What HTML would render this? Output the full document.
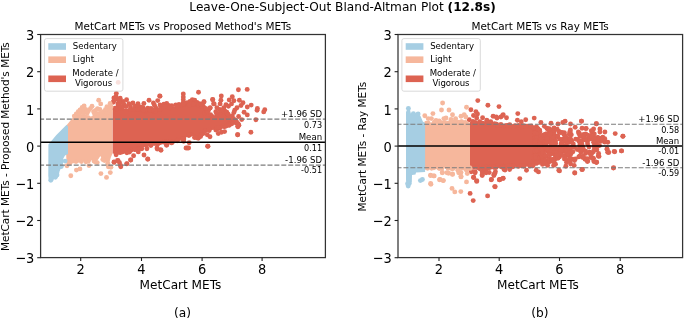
<!DOCTYPE html>
<html><head><meta charset="utf-8"><title>Bland-Altman Plot</title>
<style>html,body{margin:0;padding:0;background:#fff}svg{display:block}</style></head>
<body>
<svg width="685" height="320" viewBox="0 0 685 320" font-family="DejaVu Sans, Liberation Sans, sans-serif" fill="#000">
<rect width="685" height="320" fill="#fff"/>
<text x="342.6" y="10.6" font-size="12.13" text-anchor="middle" xml:space="preserve">Leave-One-Subject-Out Bland-Altman Plot <tspan font-weight="bold">(12.8s)</tspan></text>
<g id="left-data">
<polygon fill="#dd6352" points="112.5,108.5 125.0,108.5 140.0,109.0 146.0,110.5 157.0,110.5 161.0,108.5 163.0,106.5 170.0,107.0 175.0,106.8 180.0,105.0 184.0,104.3 196.0,104.3 203.0,104.8 206.0,108.0 208.0,111.5 210.0,114.5 214.0,115.5 217.0,113.0 219.5,110.5 222.0,110.0 225.0,111.0 227.0,113.5 229.0,116.5 232.0,118.8 236.0,120.8 239.0,122.2 239.0,124.0 238.0,127.0 235.0,125.0 231.0,123.5 227.0,125.5 220.0,127.0 216.0,129.4 209.6,130.2 204.5,131.0 202.6,134.0 198.6,137.8 194.0,137.2 190.0,134.0 186.0,137.8 183.0,139.0 179.7,139.6 173.4,141.8 162.5,142.6 151.6,144.0 145.3,146.4 140.6,148.7 132.8,149.6 128.1,152.6 120.3,155.0 112.5,153.6"/>
<g fill="#dd6352"><circle cx="118.2" cy="82.4" r="2.45"/><circle cx="116.3" cy="93.5" r="2.45"/><circle cx="113.9" cy="97.9" r="2.45"/><circle cx="116.7" cy="99.0" r="2.45"/><circle cx="120.2" cy="98.2" r="2.45"/><circle cx="126.6" cy="99.8" r="2.45"/><circle cx="123.0" cy="101.4" r="2.45"/><circle cx="132.9" cy="103.0" r="2.45"/><circle cx="138.0" cy="103.8" r="2.45"/><circle cx="143.9" cy="103.4" r="2.45"/><circle cx="149.0" cy="100.2" r="2.45"/><circle cx="159.7" cy="95.9" r="2.45"/><circle cx="157.7" cy="100.6" r="2.45"/><circle cx="153.4" cy="103.0" r="2.45"/><circle cx="154.5" cy="105.3" r="2.45"/><circle cx="147.8" cy="108.1" r="2.45"/><circle cx="160.0" cy="105.0" r="2.45"/><circle cx="162.8" cy="106.1" r="2.45"/><circle cx="128.9" cy="103.8" r="2.45"/><circle cx="135.2" cy="106.1" r="2.45"/><circle cx="140.7" cy="106.9" r="2.45"/><circle cx="117.9" cy="103.8" r="2.45"/><circle cx="113.2" cy="102.2" r="2.45"/><circle cx="120.0" cy="103.0" r="2.45"/><circle cx="124.0" cy="105.0" r="2.45"/><circle cx="118.0" cy="106.5" r="2.45"/><circle cx="121.5" cy="107.0" r="2.45"/><circle cx="126.0" cy="106.5" r="2.45"/><circle cx="130.5" cy="106.8" r="2.45"/><circle cx="137.5" cy="107.3" r="2.45"/><circle cx="143.0" cy="107.5" r="2.45"/><circle cx="151.0" cy="108.5" r="2.45"/><circle cx="156.0" cy="108.3" r="2.45"/><circle cx="114.0" cy="100.5" r="2.45"/><circle cx="116.0" cy="96.5" r="2.45"/><circle cx="119.0" cy="100.8" r="2.45"/><circle cx="123.5" cy="103.5" r="2.45"/><circle cx="160.0" cy="96.3" r="2.45"/><circle cx="166.7" cy="103.4" r="2.45"/><circle cx="163.9" cy="104.2" r="2.45"/><circle cx="175.8" cy="104.9" r="2.45"/><circle cx="171.8" cy="105.7" r="2.45"/><circle cx="183.3" cy="93.9" r="2.45"/><circle cx="183.3" cy="97.1" r="2.45"/><circle cx="183.3" cy="99.8" r="2.45"/><circle cx="183.3" cy="102.6" r="2.45"/><circle cx="192.3" cy="99.8" r="2.45"/><circle cx="194.7" cy="100.2" r="2.45"/><circle cx="190.0" cy="101.4" r="2.45"/><circle cx="187.2" cy="102.6" r="2.45"/><circle cx="198.5" cy="92.3" r="2.45"/><circle cx="204.0" cy="101.8" r="2.45"/><circle cx="212.8" cy="99.8" r="2.45"/><circle cx="213.6" cy="103.8" r="2.45"/><circle cx="210.1" cy="108.1" r="2.45"/><circle cx="199.4" cy="103.8" r="2.45"/><circle cx="201.8" cy="106.1" r="2.45"/><circle cx="195.5" cy="103.0" r="2.45"/><circle cx="168.5" cy="105.5" r="2.45"/><circle cx="179.0" cy="104.5" r="2.45"/><circle cx="185.0" cy="103.5" r="2.45"/><circle cx="197.0" cy="102.5" r="2.45"/><circle cx="203.9" cy="101.9" r="2.45"/><circle cx="212.6" cy="99.5" r="2.45"/><circle cx="214.2" cy="103.9" r="2.45"/><circle cx="210.2" cy="107.8" r="2.45"/><circle cx="221.3" cy="96.0" r="2.45"/><circle cx="220.9" cy="100.3" r="2.45"/><circle cx="220.1" cy="103.9" r="2.45"/><circle cx="216.9" cy="107.8" r="2.45"/><circle cx="215.8" cy="111.8" r="2.45"/><circle cx="219.7" cy="109.4" r="2.45"/><circle cx="222.1" cy="111.8" r="2.45"/><circle cx="223.7" cy="107.8" r="2.45"/><circle cx="226.0" cy="104.7" r="2.45"/><circle cx="229.2" cy="99.9" r="2.45"/><circle cx="232.3" cy="96.8" r="2.45"/><circle cx="233.9" cy="100.7" r="2.45"/><circle cx="231.5" cy="103.9" r="2.45"/><circle cx="228.4" cy="106.2" r="2.45"/><circle cx="239.4" cy="100.3" r="2.45"/><circle cx="243.0" cy="102.7" r="2.45"/><circle cx="241.0" cy="105.5" r="2.45"/><circle cx="237.0" cy="107.8" r="2.45"/><circle cx="234.7" cy="110.2" r="2.45"/><circle cx="233.9" cy="112.6" r="2.45"/><circle cx="251.2" cy="105.1" r="2.45"/><circle cx="247.3" cy="107.0" r="2.45"/><circle cx="244.1" cy="112.2" r="2.45"/><circle cx="247.3" cy="114.9" r="2.45"/><circle cx="238.6" cy="116.5" r="2.45"/><circle cx="232.3" cy="115.7" r="2.45"/><circle cx="227.6" cy="117.3" r="2.45"/><circle cx="211.8" cy="116.1" r="2.45"/><circle cx="204.7" cy="113.3" r="2.45"/><circle cx="201.6" cy="106.2" r="2.45"/><circle cx="238.4" cy="89.8" r="2.45"/><circle cx="247.2" cy="89.4" r="2.45"/><circle cx="257.4" cy="108.4" r="2.45"/><circle cx="257.1" cy="110.3" r="2.45"/><circle cx="264.8" cy="109.7" r="2.45"/><circle cx="263.7" cy="111.9" r="2.45"/><circle cx="255.9" cy="119.8" r="2.45"/><circle cx="237.8" cy="126.2" r="2.45"/><circle cx="250.9" cy="132.3" r="2.45"/><circle cx="237.7" cy="134.7" r="2.45"/><circle cx="241.7" cy="119.6" r="2.45"/><circle cx="207.3" cy="134.7" r="2.45"/><circle cx="210.0" cy="136.7" r="2.45"/><circle cx="218.3" cy="133.5" r="2.45"/><circle cx="221.5" cy="132.3" r="2.45"/><circle cx="224.6" cy="131.6" r="2.45"/><circle cx="237.6" cy="134.7" r="2.45"/><circle cx="208.0" cy="146.2" r="2.45"/><circle cx="197.0" cy="137.8" r="2.45"/><circle cx="207.6" cy="146.2" r="2.45"/><circle cx="187.3" cy="148.0" r="2.45"/><circle cx="186.0" cy="148.0" r="2.45"/><circle cx="188.6" cy="148.0" r="2.45"/><circle cx="189.2" cy="142.8" r="2.45"/><circle cx="183.7" cy="141.2" r="2.45"/><circle cx="147.8" cy="159.2" r="2.45"/><circle cx="157.2" cy="149.0" r="2.45"/><circle cx="161.0" cy="150.2" r="2.45"/><circle cx="166.5" cy="145.2" r="2.45"/><circle cx="171.2" cy="142.8" r="2.45"/><circle cx="114.0" cy="162.0" r="2.45"/><circle cx="117.5" cy="160.5" r="2.45"/><circle cx="119.5" cy="162.8" r="2.45"/><circle cx="120.8" cy="166.7" r="2.45"/><circle cx="126.9" cy="163.6" r="2.45"/><circle cx="130.8" cy="160.0" r="2.45"/><circle cx="133.6" cy="155.8" r="2.45"/><circle cx="138.3" cy="151.9" r="2.45"/><circle cx="144.0" cy="155.0" r="2.45"/><circle cx="147.7" cy="158.9" r="2.45"/><circle cx="146.9" cy="148.7" r="2.45"/><circle cx="150.8" cy="145.6" r="2.45"/><circle cx="157.0" cy="148.0" r="2.45"/><circle cx="160.6" cy="149.8" r="2.45"/><circle cx="166.9" cy="144.8" r="2.45"/><circle cx="171.9" cy="142.8" r="2.45"/><circle cx="118.1" cy="160.8" r="2.45"/><circle cx="120.5" cy="165.5" r="2.45"/><circle cx="126.7" cy="163.9" r="2.45"/><circle cx="130.6" cy="160.0" r="2.45"/><circle cx="114.2" cy="162.3" r="2.45"/></g>
<g fill="#dd6352"><circle cx="145.7" cy="110.2" r="2.45"/><circle cx="195.4" cy="103.5" r="2.45"/><circle cx="115.0" cy="108.1" r="2.45"/><circle cx="146.0" cy="110.2" r="2.45"/><circle cx="220.6" cy="110.5" r="2.45"/><circle cx="133.8" cy="109.4" r="2.45"/><circle cx="184.3" cy="104.6" r="2.45"/><circle cx="121.9" cy="108.7" r="2.45"/><circle cx="153.7" cy="111.2" r="2.45"/><circle cx="177.5" cy="106.7" r="2.45"/><circle cx="208.4" cy="110.6" r="2.45"/><circle cx="216.7" cy="114.0" r="2.45"/><circle cx="225.2" cy="111.4" r="2.45"/><circle cx="143.6" cy="109.6" r="2.45"/><circle cx="198.0" cy="104.5" r="2.45"/><circle cx="164.8" cy="106.8" r="2.45"/><circle cx="193.2" cy="104.6" r="2.45"/><circle cx="230.9" cy="118.4" r="2.45"/><circle cx="203.5" cy="106.6" r="2.45"/><circle cx="235.3" cy="120.2" r="2.45"/><circle cx="207.1" cy="111.4" r="2.45"/><circle cx="190.6" cy="103.5" r="2.45"/><circle cx="223.9" cy="109.6" r="2.45"/><circle cx="216.6" cy="112.6" r="2.45"/><circle cx="154.0" cy="111.2" r="2.45"/><circle cx="118.9" cy="107.7" r="2.45"/><circle cx="207.6" cy="112.0" r="2.45"/><circle cx="236.6" cy="122.0" r="2.45"/><circle cx="154.9" cy="110.7" r="2.45"/><circle cx="116.4" cy="108.3" r="2.45"/><circle cx="195.5" cy="103.5" r="2.45"/><circle cx="224.5" cy="111.8" r="2.45"/><circle cx="227.2" cy="114.0" r="2.45"/><circle cx="183.7" cy="104.6" r="2.45"/><circle cx="189.2" cy="105.1" r="2.45"/><circle cx="181.5" cy="105.1" r="2.45"/><circle cx="145.2" cy="111.3" r="2.45"/><circle cx="183.7" cy="103.5" r="2.45"/><circle cx="169.3" cy="106.1" r="2.45"/><circle cx="197.1" cy="103.6" r="2.45"/><circle cx="198.4" cy="104.8" r="2.45"/><circle cx="161.5" cy="108.8" r="2.45"/><circle cx="114.8" cy="108.8" r="2.45"/><circle cx="233.9" cy="119.9" r="2.45"/><circle cx="193.3" cy="104.1" r="2.45"/><circle cx="155.9" cy="110.7" r="2.45"/><circle cx="154.2" cy="111.0" r="2.45"/><circle cx="116.4" cy="108.9" r="2.45"/><circle cx="155.2" cy="111.0" r="2.45"/><circle cx="145.2" cy="110.3" r="2.45"/><circle cx="205.8" cy="108.5" r="2.45"/><circle cx="159.4" cy="109.5" r="2.45"/><circle cx="222.6" cy="110.1" r="2.45"/><circle cx="202.4" cy="104.6" r="2.45"/><circle cx="143.2" cy="110.0" r="2.45"/><circle cx="139.8" cy="109.6" r="2.45"/><circle cx="137.8" cy="109.5" r="2.45"/><circle cx="201.1" cy="104.3" r="2.45"/><circle cx="130.3" cy="109.2" r="2.45"/><circle cx="150.0" cy="110.4" r="2.45"/><circle cx="169.6" cy="107.7" r="2.45"/><circle cx="133.5" cy="109.6" r="2.45"/><circle cx="226.8" cy="112.1" r="2.45"/><circle cx="233.5" cy="118.7" r="2.45"/><circle cx="210.6" cy="114.8" r="2.45"/><circle cx="182.9" cy="104.1" r="2.45"/><circle cx="143.4" cy="110.2" r="2.45"/><circle cx="153.1" cy="109.7" r="2.45"/><circle cx="228.3" cy="115.6" r="2.45"/><circle cx="228.1" cy="114.2" r="2.45"/></g>
<g fill="#dd6352"><circle cx="238.9" cy="125.2" r="2.45"/><circle cx="203.2" cy="133.6" r="2.45"/><circle cx="190.7" cy="134.3" r="2.45"/><circle cx="198.3" cy="138.3" r="2.45"/><circle cx="183.3" cy="138.8" r="2.45"/><circle cx="215.8" cy="130.0" r="2.45"/><circle cx="219.4" cy="128.4" r="2.45"/><circle cx="138.8" cy="148.1" r="2.45"/><circle cx="162.7" cy="141.9" r="2.45"/><circle cx="205.0" cy="130.9" r="2.45"/><circle cx="188.9" cy="135.5" r="2.45"/><circle cx="238.1" cy="123.6" r="2.45"/><circle cx="224.3" cy="126.8" r="2.45"/><circle cx="131.0" cy="150.3" r="2.45"/><circle cx="201.0" cy="134.9" r="2.45"/><circle cx="159.6" cy="142.7" r="2.45"/><circle cx="216.2" cy="128.4" r="2.45"/><circle cx="172.6" cy="141.7" r="2.45"/><circle cx="230.3" cy="123.3" r="2.45"/><circle cx="165.9" cy="142.2" r="2.45"/><circle cx="139.1" cy="148.8" r="2.45"/><circle cx="194.5" cy="137.6" r="2.45"/><circle cx="189.6" cy="134.7" r="2.45"/><circle cx="209.2" cy="130.6" r="2.45"/><circle cx="231.8" cy="123.7" r="2.45"/><circle cx="129.5" cy="152.0" r="2.45"/><circle cx="126.9" cy="152.7" r="2.45"/><circle cx="183.8" cy="139.0" r="2.45"/><circle cx="158.0" cy="143.8" r="2.45"/><circle cx="157.0" cy="143.5" r="2.45"/><circle cx="228.1" cy="124.1" r="2.45"/><circle cx="223.0" cy="125.6" r="2.45"/><circle cx="228.7" cy="125.0" r="2.45"/><circle cx="217.1" cy="128.9" r="2.45"/><circle cx="226.2" cy="126.1" r="2.45"/><circle cx="134.9" cy="149.6" r="2.45"/><circle cx="138.4" cy="149.3" r="2.45"/><circle cx="178.5" cy="139.4" r="2.45"/><circle cx="146.4" cy="145.5" r="2.45"/><circle cx="200.6" cy="136.6" r="2.45"/><circle cx="208.9" cy="129.8" r="2.45"/><circle cx="164.2" cy="142.3" r="2.45"/><circle cx="195.0" cy="137.1" r="2.45"/><circle cx="188.7" cy="134.5" r="2.45"/><circle cx="116.1" cy="154.7" r="2.45"/><circle cx="220.5" cy="127.4" r="2.45"/><circle cx="155.8" cy="143.4" r="2.45"/><circle cx="160.7" cy="142.3" r="2.45"/><circle cx="229.3" cy="125.3" r="2.45"/><circle cx="177.2" cy="140.8" r="2.45"/><circle cx="216.7" cy="128.2" r="2.45"/><circle cx="167.7" cy="141.7" r="2.45"/><circle cx="154.1" cy="143.4" r="2.45"/><circle cx="151.2" cy="144.7" r="2.45"/><circle cx="167.7" cy="141.7" r="2.45"/><circle cx="237.9" cy="126.7" r="2.45"/><circle cx="218.5" cy="127.4" r="2.45"/><circle cx="141.8" cy="148.7" r="2.45"/><circle cx="182.6" cy="139.0" r="2.45"/><circle cx="134.9" cy="149.5" r="2.45"/></g>
<polygon fill="#f6b79c" points="66.0,126.0 73.5,116.8 75.5,115.5 80.0,114.6 89.0,115.2 90.5,116.5 92.5,116.0 93.5,113.0 96.0,111.5 101.0,111.0 104.0,110.5 108.0,111.5 112.3,110.0 112.3,154.0 110.8,157.5 109.5,162.0 107.5,163.3 105.5,162.0 103.5,160.5 101.7,158.5 100.3,156.0 98.8,158.5 96.5,161.8 93.5,162.0 91.5,160.0 90.0,163.0 87.5,163.2 84.8,160.5 82.0,162.0 78.0,162.8 73.0,163.2 70.0,163.6 67.5,164.5 66.5,163.0 66.0,150.0"/>
<g fill="#f6b79c"><circle cx="98.7" cy="100.3" r="2.45"/><circle cx="100.7" cy="103.9" r="2.45"/><circle cx="84.1" cy="105.9" r="2.45"/><circle cx="82.2" cy="107.4" r="2.45"/><circle cx="92.0" cy="106.2" r="2.45"/><circle cx="90.4" cy="108.6" r="2.45"/><circle cx="78.2" cy="111.8" r="2.45"/><circle cx="74.3" cy="116.1" r="2.45"/><circle cx="110.1" cy="103.5" r="2.45"/><circle cx="107.0" cy="106.6" r="2.45"/><circle cx="109.0" cy="109.4" r="2.45"/><circle cx="97.5" cy="108.6" r="2.45"/><circle cx="99.9" cy="109.4" r="2.45"/><circle cx="85.7" cy="109.4" r="2.45"/><circle cx="81.8" cy="112.6" r="2.45"/><circle cx="87.3" cy="113.0" r="2.45"/><circle cx="93.6" cy="111.8" r="2.45"/><circle cx="103.8" cy="111.8" r="2.45"/><circle cx="107.0" cy="112.6" r="2.45"/><circle cx="76.3" cy="113.9" r="2.45"/><circle cx="80.0" cy="110.0" r="2.45"/><circle cx="83.5" cy="110.5" r="2.45"/><circle cx="88.5" cy="110.8" r="2.45"/><circle cx="84.0" cy="113.0" r="2.45"/><circle cx="79.5" cy="113.5" r="2.45"/><circle cx="95.5" cy="110.5" r="2.45"/><circle cx="105.5" cy="109.5" r="2.45"/><circle cx="111.0" cy="107.0" r="2.45"/><circle cx="110.5" cy="111.0" r="2.45"/><circle cx="86.5" cy="111.5" r="2.45"/><circle cx="94.5" cy="113.8" r="2.45"/><circle cx="67.0" cy="165.7" r="2.45"/><circle cx="70.1" cy="162.8" r="2.45"/><circle cx="81.4" cy="161.6" r="2.45"/><circle cx="89.0" cy="165.6" r="2.45"/><circle cx="95.2" cy="161.8" r="2.45"/><circle cx="94.0" cy="161.0" r="2.45"/><circle cx="97.2" cy="162.6" r="2.45"/><circle cx="102.8" cy="159.6" r="2.45"/><circle cx="107.8" cy="163.4" r="2.45"/><circle cx="108.4" cy="166.8" r="2.45"/><circle cx="110.9" cy="167.2" r="2.45"/><circle cx="104.5" cy="160.6" r="2.45"/><circle cx="86.0" cy="161.8" r="2.45"/><circle cx="76.0" cy="161.5" r="2.45"/><circle cx="70.8" cy="175.8" r="2.45"/><circle cx="76.4" cy="170.1" r="2.45"/><circle cx="79.9" cy="168.9" r="2.45"/><circle cx="100.9" cy="173.6" r="2.45"/><circle cx="106.5" cy="177.4" r="2.45"/><circle cx="110.3" cy="172.6" r="2.45"/></g>
<polygon fill="#a6cee3" points="48.4,144.4 56.4,135.0 66.6,124.8 68.0,126.5 68.0,154.0 65.0,155.5 63.3,158.5 63.0,163.5 62.6,167.0 60.5,169.0 59.5,171.5 58.8,175.0 57.0,177.0 54.5,178.5 53.0,180.5 50.7,181.8 48.8,180.5 48.3,176.0"/>
<g fill="#a6cee3"><circle cx="65.1" cy="161.1" r="2.45"/><circle cx="57.0" cy="175.1" r="2.45"/><circle cx="61.3" cy="166.5" r="2.45"/><circle cx="50.8" cy="180.2" r="2.45"/><circle cx="55.3" cy="177.3" r="2.45"/></g>
</g>
<line x1="40.6" x2="325.4" y1="119.15" y2="119.15" stroke="#7c7c7c" stroke-width="1.2" stroke-dasharray="5 1.92" stroke-dashoffset="1.5"/>
<line x1="40.6" x2="325.4" y1="142.15" y2="142.15" stroke="#000" stroke-width="1.5"/>
<line x1="40.6" x2="325.4" y1="165.15" y2="165.15" stroke="#7c7c7c" stroke-width="1.2" stroke-dasharray="5 1.92" stroke-dashoffset="1.5"/>
<rect x="40.6" y="34.5" width="284.8" height="223.1" fill="none" stroke="#333" stroke-width="1.25"/>
<line x1="80.7" x2="80.7" y1="257.6" y2="261.0" stroke="#222" stroke-width="1.1"/>
<text transform="translate(80.70,273.80) scale(1,1.130)" font-size="13.00" text-anchor="middle">2</text>
<line x1="141.5" x2="141.5" y1="257.6" y2="261.0" stroke="#222" stroke-width="1.1"/>
<text transform="translate(141.50,273.80) scale(1,1.130)" font-size="13.00" text-anchor="middle">4</text>
<line x1="202.1" x2="202.1" y1="257.6" y2="261.0" stroke="#222" stroke-width="1.1"/>
<text transform="translate(202.10,273.80) scale(1,1.130)" font-size="13.00" text-anchor="middle">6</text>
<line x1="262.1" x2="262.1" y1="257.6" y2="261.0" stroke="#222" stroke-width="1.1"/>
<text transform="translate(262.10,273.80) scale(1,1.130)" font-size="13.00" text-anchor="middle">8</text>
<line x1="37.2" x2="40.6" y1="34.5" y2="34.5" stroke="#222" stroke-width="1.1"/>
<text transform="translate(34.30,40.13) scale(1,1.120)" font-size="13.00" text-anchor="end">3</text>
<line x1="37.2" x2="40.6" y1="71.7" y2="71.7" stroke="#222" stroke-width="1.1"/>
<text transform="translate(34.30,77.32) scale(1,1.120)" font-size="13.00" text-anchor="end">2</text>
<line x1="37.2" x2="40.6" y1="108.9" y2="108.9" stroke="#222" stroke-width="1.1"/>
<text transform="translate(34.30,114.51) scale(1,1.120)" font-size="13.00" text-anchor="end">1</text>
<line x1="37.2" x2="40.6" y1="146.1" y2="146.1" stroke="#222" stroke-width="1.1"/>
<text transform="translate(34.30,151.70) scale(1,1.120)" font-size="13.00" text-anchor="end">0</text>
<line x1="37.2" x2="40.6" y1="183.3" y2="183.3" stroke="#222" stroke-width="1.1"/>
<text transform="translate(34.30,188.89) scale(1,1.120)" font-size="13.00" text-anchor="end">−1</text>
<line x1="37.2" x2="40.6" y1="220.5" y2="220.5" stroke="#222" stroke-width="1.1"/>
<text transform="translate(34.30,226.08) scale(1,1.120)" font-size="13.00" text-anchor="end">−2</text>
<line x1="37.2" x2="40.6" y1="257.7" y2="257.7" stroke="#222" stroke-width="1.1"/>
<text transform="translate(34.30,263.27) scale(1,1.120)" font-size="13.00" text-anchor="end">−3</text>
<text x="182.80" y="30.30" font-size="10.45" text-anchor="middle" >MetCart METs vs Proposed Method's METs</text>
<text transform="translate(8.90,146.60) rotate(-90)" font-size="10.45" text-anchor="middle">MetCart METs - Proposed Method's METs</text>
<text x="180.50" y="289.25" font-size="12.10" text-anchor="middle" >MetCart METs</text>
<text x="182.50" y="317.30" font-size="12.20" text-anchor="middle" >(a)</text>
<text x="322.10" y="117.10" font-size="8.58" text-anchor="end" >+1.96 SD</text>
<text x="322.10" y="127.50" font-size="8.15" text-anchor="end" >0.73</text>
<text x="322.10" y="139.60" font-size="8.58" text-anchor="end" >Mean</text>
<text x="322.10" y="150.50" font-size="8.15" text-anchor="end" >0.11</text>
<text x="322.10" y="163.10" font-size="8.58" text-anchor="end" >-1.96 SD</text>
<text x="322.10" y="173.30" font-size="8.15" text-anchor="end" >-0.51</text>
<rect x="44.5" y="38.6" width="78.4" height="52.6" rx="2" ry="2" fill="#fff" fill-opacity="0.8" stroke="#ccc" stroke-opacity="0.8" stroke-width="0.9"/>
<rect x="48.3" y="43.2" width="17.7" height="6.6" fill="#a6cee3"/>
<rect x="48.3" y="56.4" width="17.7" height="6.6" fill="#f6b79c"/>
<rect x="48.3" y="75.5" width="17.7" height="6.6" fill="#dd6352"/>
<text x="72.80" y="49.40" font-size="8.55" text-anchor="start" >Sedentary</text>
<text x="72.80" y="62.40" font-size="8.55" text-anchor="start" >Light</text>
<text x="72.30" y="76.10" font-size="8.55" text-anchor="start" >Moderate /</text>
<text x="72.30" y="85.75" font-size="8.55" text-anchor="start" > Vigorous</text>
<g id="right-data">
<polygon fill="#dd6352" points="470.0,122.0 476.0,121.8 482.0,122.5 490.0,123.8 496.0,125.0 506.0,125.6 514.0,126.0 530.0,126.8 538.0,127.6 538.0,165.5 530.0,166.2 520.0,166.4 500.0,166.8 484.0,167.8 470.0,168.0"/>
<g fill="#dd6352"><circle cx="477.8" cy="100.6" r="2.45"/><circle cx="470.9" cy="109.7" r="2.45"/><circle cx="475.9" cy="111.6" r="2.45"/><circle cx="477.5" cy="114.0" r="2.45"/><circle cx="473.5" cy="115.5" r="2.45"/><circle cx="476.7" cy="118.0" r="2.45"/><circle cx="469.2" cy="119.7" r="2.45"/><circle cx="482.6" cy="117.8" r="2.45"/><circle cx="487.9" cy="105.3" r="2.45"/><circle cx="486.8" cy="120.2" r="2.45"/><circle cx="499.0" cy="106.6" r="2.45"/><circle cx="493.1" cy="116.2" r="2.45"/><circle cx="497.0" cy="118.0" r="2.45"/><circle cx="500.9" cy="117.0" r="2.45"/><circle cx="503.2" cy="114.7" r="2.45"/><circle cx="490.7" cy="121.7" r="2.45"/><circle cx="502.6" cy="115.5" r="2.45"/><circle cx="506.5" cy="117.8" r="2.45"/><circle cx="496.3" cy="117.0" r="2.45"/><circle cx="517.8" cy="113.6" r="2.45"/><circle cx="517.4" cy="120.2" r="2.45"/><circle cx="521.3" cy="121.7" r="2.45"/><circle cx="525.7" cy="119.7" r="2.45"/><circle cx="534.2" cy="118.1" r="2.45"/><circle cx="540.9" cy="122.5" r="2.45"/><circle cx="551.0" cy="123.3" r="2.45"/><circle cx="558.0" cy="124.0" r="2.45"/><circle cx="565.1" cy="121.2" r="2.45"/><circle cx="562.8" cy="122.5" r="2.45"/><circle cx="570.5" cy="124.0" r="2.45"/><circle cx="581.5" cy="121.2" r="2.45"/><circle cx="586.2" cy="128.4" r="2.45"/><circle cx="596.3" cy="123.8" r="2.45"/><circle cx="592.4" cy="131.1" r="2.45"/><circle cx="575.2" cy="127.2" r="2.45"/><circle cx="578.4" cy="131.9" r="2.45"/><circle cx="581.4" cy="121.1" r="2.45"/><circle cx="596.4" cy="123.8" r="2.45"/><circle cx="585.8" cy="128.6" r="2.45"/><circle cx="593.6" cy="128.9" r="2.45"/><circle cx="592.0" cy="132.0" r="2.45"/><circle cx="599.9" cy="128.9" r="2.45"/><circle cx="599.9" cy="132.0" r="2.45"/><circle cx="604.9" cy="132.0" r="2.45"/><circle cx="615.2" cy="133.6" r="2.45"/><circle cx="622.8" cy="136.2" r="2.45"/><circle cx="579.5" cy="133.6" r="2.45"/><circle cx="583.5" cy="137.5" r="2.45"/><circle cx="581.0" cy="141.4" r="2.45"/><circle cx="587.4" cy="141.4" r="2.45"/><circle cx="593.6" cy="142.2" r="2.45"/><circle cx="598.3" cy="138.3" r="2.45"/><circle cx="601.4" cy="138.3" r="2.45"/><circle cx="604.6" cy="141.4" r="2.45"/><circle cx="595.2" cy="145.3" r="2.45"/><circle cx="623.0" cy="136.2" r="2.45"/><circle cx="614.2" cy="151.4" r="2.45"/><circle cx="621.4" cy="150.9" r="2.45"/><circle cx="613.6" cy="167.8" r="2.45"/><circle cx="581.9" cy="169.4" r="2.45"/><circle cx="596.4" cy="162.3" r="2.45"/><circle cx="607.7" cy="152.2" r="2.45"/><circle cx="606.9" cy="149.0" r="2.45"/><circle cx="598.3" cy="156.0" r="2.45"/><circle cx="593.6" cy="158.4" r="2.45"/><circle cx="587.4" cy="161.6" r="2.45"/><circle cx="585.0" cy="159.2" r="2.45"/><circle cx="589.7" cy="152.2" r="2.45"/><circle cx="596.8" cy="149.8" r="2.45"/><circle cx="581.0" cy="152.2" r="2.45"/><circle cx="578.8" cy="156.9" r="2.45"/><circle cx="582.7" cy="147.5" r="2.45"/><circle cx="604.6" cy="142.0" r="2.45"/><circle cx="598.3" cy="138.0" r="2.45"/><circle cx="584.2" cy="139.7" r="2.45"/><circle cx="579.5" cy="142.0" r="2.45"/><circle cx="471.2" cy="171.7" r="2.45"/><circle cx="475.1" cy="171.7" r="2.45"/><circle cx="473.6" cy="177.2" r="2.45"/><circle cx="476.7" cy="180.6" r="2.45"/><circle cx="482.2" cy="171.7" r="2.45"/><circle cx="486.1" cy="171.7" r="2.45"/><circle cx="482.2" cy="175.6" r="2.45"/><circle cx="489.2" cy="172.5" r="2.45"/><circle cx="495.4" cy="171.7" r="2.45"/><circle cx="493.9" cy="175.6" r="2.45"/><circle cx="491.5" cy="179.5" r="2.45"/><circle cx="500.1" cy="179.5" r="2.45"/><circle cx="504.0" cy="169.4" r="2.45"/><circle cx="470.1" cy="193.4" r="2.45"/><circle cx="473.2" cy="200.6" r="2.45"/><circle cx="487.6" cy="195.9" r="2.45"/><circle cx="494.7" cy="186.6" r="2.45"/><circle cx="491.2" cy="179.8" r="2.45"/><circle cx="499.3" cy="179.8" r="2.45"/><circle cx="476.7" cy="181.4" r="2.45"/><circle cx="473.6" cy="177.5" r="2.45"/><circle cx="475.1" cy="172.8" r="2.45"/><circle cx="482.2" cy="174.4" r="2.45"/><circle cx="486.1" cy="172.8" r="2.45"/><circle cx="493.9" cy="174.4" r="2.45"/><circle cx="503.2" cy="178.3" r="2.45"/><circle cx="494.8" cy="173.4" r="2.45"/><circle cx="495.2" cy="186.7" r="2.45"/><circle cx="499.5" cy="179.7" r="2.45"/><circle cx="503.0" cy="178.4" r="2.45"/><circle cx="505.0" cy="170.0" r="2.45"/><circle cx="509.6" cy="169.5" r="2.45"/><circle cx="519.8" cy="178.6" r="2.45"/><circle cx="526.5" cy="170.3" r="2.45"/><circle cx="536.2" cy="170.3" r="2.45"/><circle cx="538.5" cy="171.9" r="2.45"/><circle cx="558.8" cy="170.3" r="2.45"/><circle cx="574.8" cy="173.1" r="2.45"/><circle cx="582.3" cy="169.4" r="2.45"/><circle cx="596.3" cy="162.2" r="2.45"/><circle cx="574.5" cy="160.6" r="2.45"/><circle cx="570.6" cy="164.0" r="2.45"/><circle cx="587.8" cy="161.0" r="2.45"/><circle cx="559.5" cy="170.9" r="2.45"/><circle cx="574.7" cy="172.8" r="2.45"/><circle cx="582.2" cy="169.4" r="2.45"/><circle cx="613.4" cy="168.1" r="2.45"/><circle cx="614.7" cy="151.7" r="2.45"/><circle cx="621.6" cy="150.9" r="2.45"/><circle cx="596.6" cy="162.3" r="2.45"/><circle cx="599.0" cy="156.4" r="2.45"/><circle cx="608.8" cy="152.5" r="2.45"/><circle cx="607.2" cy="149.4" r="2.45"/></g>
<g fill="#dd6352"><circle cx="503.1" cy="126.1" r="2.45"/><circle cx="497.6" cy="126.0" r="2.45"/><circle cx="501.1" cy="124.8" r="2.45"/><circle cx="519.1" cy="127.2" r="2.45"/><circle cx="527.5" cy="126.1" r="2.45"/><circle cx="486.9" cy="123.8" r="2.45"/><circle cx="529.2" cy="126.2" r="2.45"/><circle cx="528.4" cy="126.6" r="2.45"/><circle cx="518.7" cy="125.5" r="2.45"/><circle cx="526.3" cy="126.3" r="2.45"/><circle cx="509.7" cy="124.8" r="2.45"/><circle cx="492.6" cy="124.3" r="2.45"/><circle cx="484.5" cy="123.8" r="2.45"/><circle cx="496.5" cy="124.3" r="2.45"/><circle cx="489.0" cy="122.8" r="2.45"/><circle cx="531.1" cy="126.0" r="2.45"/><circle cx="533.8" cy="127.7" r="2.45"/><circle cx="521.1" cy="126.7" r="2.45"/><circle cx="515.0" cy="125.6" r="2.45"/><circle cx="522.2" cy="126.7" r="2.45"/><circle cx="505.6" cy="125.6" r="2.45"/><circle cx="494.3" cy="124.9" r="2.45"/><circle cx="507.8" cy="126.0" r="2.45"/><circle cx="512.2" cy="126.7" r="2.45"/><circle cx="513.7" cy="126.9" r="2.45"/><circle cx="479.3" cy="122.7" r="2.45"/><circle cx="510.7" cy="126.1" r="2.45"/><circle cx="500.6" cy="124.7" r="2.45"/><circle cx="475.1" cy="122.4" r="2.45"/><circle cx="507.3" cy="125.4" r="2.45"/><circle cx="487.8" cy="124.2" r="2.45"/><circle cx="472.9" cy="121.4" r="2.45"/><circle cx="522.0" cy="126.1" r="2.45"/><circle cx="497.4" cy="125.6" r="2.45"/><circle cx="494.6" cy="123.8" r="2.45"/><circle cx="487.6" cy="122.8" r="2.45"/><circle cx="523.4" cy="125.8" r="2.45"/><circle cx="482.7" cy="123.1" r="2.45"/><circle cx="525.9" cy="126.8" r="2.45"/><circle cx="479.8" cy="121.7" r="2.45"/></g>
<g fill="#dd6352"><circle cx="502.3" cy="166.2" r="2.45"/><circle cx="521.6" cy="165.4" r="2.45"/><circle cx="484.2" cy="168.7" r="2.45"/><circle cx="512.1" cy="166.7" r="2.45"/><circle cx="495.9" cy="167.5" r="2.45"/><circle cx="518.4" cy="166.4" r="2.45"/><circle cx="497.6" cy="166.0" r="2.45"/><circle cx="485.9" cy="167.7" r="2.45"/><circle cx="502.3" cy="166.1" r="2.45"/><circle cx="501.1" cy="166.8" r="2.45"/><circle cx="494.0" cy="167.3" r="2.45"/><circle cx="473.6" cy="167.2" r="2.45"/><circle cx="484.4" cy="166.9" r="2.45"/><circle cx="513.0" cy="165.7" r="2.45"/><circle cx="502.2" cy="166.4" r="2.45"/><circle cx="479.2" cy="167.1" r="2.45"/><circle cx="479.8" cy="168.7" r="2.45"/><circle cx="489.8" cy="167.2" r="2.45"/><circle cx="484.0" cy="168.5" r="2.45"/><circle cx="508.8" cy="166.6" r="2.45"/><circle cx="529.7" cy="165.3" r="2.45"/><circle cx="523.7" cy="166.3" r="2.45"/><circle cx="490.5" cy="167.2" r="2.45"/><circle cx="493.5" cy="167.1" r="2.45"/><circle cx="486.3" cy="167.0" r="2.45"/><circle cx="477.3" cy="167.6" r="2.45"/><circle cx="512.8" cy="166.7" r="2.45"/><circle cx="521.8" cy="165.8" r="2.45"/><circle cx="484.0" cy="167.7" r="2.45"/><circle cx="524.2" cy="165.6" r="2.45"/><circle cx="509.9" cy="165.6" r="2.45"/><circle cx="529.9" cy="166.1" r="2.45"/><circle cx="533.0" cy="165.8" r="2.45"/><circle cx="510.7" cy="165.7" r="2.45"/><circle cx="510.4" cy="165.6" r="2.45"/><circle cx="471.8" cy="167.2" r="2.45"/><circle cx="505.1" cy="166.9" r="2.45"/><circle cx="513.7" cy="165.6" r="2.45"/><circle cx="488.1" cy="168.1" r="2.45"/><circle cx="507.2" cy="166.3" r="2.45"/></g>
<g fill="#dd6352"><circle cx="539.5" cy="137.6" r="2.45"/><circle cx="536.1" cy="162.8" r="2.45"/><circle cx="553.8" cy="139.2" r="2.45"/><circle cx="554.2" cy="146.8" r="2.45"/><circle cx="536.5" cy="139.3" r="2.45"/><circle cx="537.8" cy="142.8" r="2.45"/><circle cx="554.3" cy="150.3" r="2.45"/><circle cx="544.6" cy="135.8" r="2.45"/><circle cx="549.6" cy="153.6" r="2.45"/><circle cx="534.5" cy="141.1" r="2.45"/><circle cx="539.2" cy="144.6" r="2.45"/><circle cx="543.9" cy="156.6" r="2.45"/><circle cx="555.0" cy="146.2" r="2.45"/><circle cx="548.3" cy="149.8" r="2.45"/><circle cx="546.9" cy="128.3" r="2.45"/><circle cx="551.2" cy="148.2" r="2.45"/><circle cx="537.9" cy="134.1" r="2.45"/><circle cx="552.2" cy="142.5" r="2.45"/><circle cx="541.6" cy="159.3" r="2.45"/><circle cx="547.1" cy="151.1" r="2.45"/><circle cx="535.6" cy="149.5" r="2.45"/><circle cx="547.3" cy="140.5" r="2.45"/><circle cx="538.8" cy="133.0" r="2.45"/><circle cx="555.7" cy="148.4" r="2.45"/><circle cx="554.9" cy="158.4" r="2.45"/><circle cx="543.0" cy="150.0" r="2.45"/><circle cx="549.9" cy="136.0" r="2.45"/><circle cx="543.5" cy="136.8" r="2.45"/><circle cx="536.3" cy="155.5" r="2.45"/><circle cx="550.8" cy="154.2" r="2.45"/><circle cx="540.9" cy="144.5" r="2.45"/><circle cx="552.8" cy="132.2" r="2.45"/><circle cx="540.5" cy="139.1" r="2.45"/><circle cx="537.6" cy="128.8" r="2.45"/><circle cx="555.5" cy="164.3" r="2.45"/><circle cx="534.3" cy="159.9" r="2.45"/><circle cx="536.1" cy="134.5" r="2.45"/><circle cx="539.7" cy="130.1" r="2.45"/><circle cx="554.1" cy="131.7" r="2.45"/><circle cx="552.3" cy="144.2" r="2.45"/><circle cx="553.9" cy="143.3" r="2.45"/><circle cx="545.4" cy="134.2" r="2.45"/><circle cx="546.0" cy="145.3" r="2.45"/><circle cx="544.0" cy="143.9" r="2.45"/><circle cx="552.2" cy="130.4" r="2.45"/><circle cx="540.2" cy="161.2" r="2.45"/><circle cx="542.2" cy="154.8" r="2.45"/><circle cx="538.0" cy="148.1" r="2.45"/><circle cx="554.9" cy="154.6" r="2.45"/><circle cx="555.6" cy="140.4" r="2.45"/><circle cx="545.6" cy="149.5" r="2.45"/><circle cx="534.1" cy="155.7" r="2.45"/><circle cx="544.6" cy="157.2" r="2.45"/><circle cx="555.1" cy="145.0" r="2.45"/><circle cx="548.8" cy="162.2" r="2.45"/><circle cx="537.9" cy="140.6" r="2.45"/><circle cx="542.6" cy="146.6" r="2.45"/><circle cx="554.1" cy="128.0" r="2.45"/><circle cx="555.6" cy="135.9" r="2.45"/><circle cx="534.5" cy="135.7" r="2.45"/><circle cx="544.2" cy="146.5" r="2.45"/><circle cx="538.4" cy="157.2" r="2.45"/><circle cx="538.5" cy="133.3" r="2.45"/><circle cx="536.5" cy="126.9" r="2.45"/><circle cx="549.1" cy="158.8" r="2.45"/><circle cx="543.7" cy="140.4" r="2.45"/><circle cx="542.2" cy="139.6" r="2.45"/><circle cx="554.6" cy="160.0" r="2.45"/><circle cx="539.9" cy="131.8" r="2.45"/><circle cx="548.2" cy="142.1" r="2.45"/><circle cx="545.7" cy="156.5" r="2.45"/><circle cx="547.6" cy="128.9" r="2.45"/><circle cx="535.3" cy="131.0" r="2.45"/><circle cx="542.0" cy="143.8" r="2.45"/><circle cx="548.3" cy="139.4" r="2.45"/><circle cx="537.1" cy="133.1" r="2.45"/><circle cx="545.8" cy="142.8" r="2.45"/><circle cx="543.7" cy="151.5" r="2.45"/><circle cx="540.3" cy="136.1" r="2.45"/><circle cx="534.6" cy="140.3" r="2.45"/><circle cx="547.8" cy="160.6" r="2.45"/><circle cx="549.2" cy="130.6" r="2.45"/><circle cx="535.5" cy="128.4" r="2.45"/><circle cx="552.2" cy="140.5" r="2.45"/><circle cx="538.4" cy="141.9" r="2.45"/><circle cx="539.1" cy="144.6" r="2.45"/><circle cx="555.6" cy="157.3" r="2.45"/><circle cx="553.8" cy="134.4" r="2.45"/><circle cx="550.9" cy="153.7" r="2.45"/><circle cx="535.3" cy="153.1" r="2.45"/><circle cx="538.8" cy="162.5" r="2.45"/><circle cx="542.7" cy="156.9" r="2.45"/><circle cx="542.5" cy="164.4" r="2.45"/><circle cx="542.6" cy="143.4" r="2.45"/><circle cx="541.5" cy="136.2" r="2.45"/><circle cx="539.4" cy="147.2" r="2.45"/><circle cx="537.9" cy="151.9" r="2.45"/><circle cx="547.8" cy="137.8" r="2.45"/><circle cx="544.8" cy="155.2" r="2.45"/><circle cx="555.7" cy="143.2" r="2.45"/><circle cx="549.8" cy="140.6" r="2.45"/><circle cx="545.6" cy="148.6" r="2.45"/><circle cx="546.8" cy="133.7" r="2.45"/><circle cx="553.6" cy="165.4" r="2.45"/><circle cx="550.2" cy="141.3" r="2.45"/><circle cx="549.3" cy="158.6" r="2.45"/><circle cx="541.0" cy="154.4" r="2.45"/><circle cx="543.0" cy="161.4" r="2.45"/><circle cx="538.4" cy="158.2" r="2.45"/><circle cx="554.3" cy="149.7" r="2.45"/><circle cx="554.7" cy="136.2" r="2.45"/><circle cx="539.8" cy="155.8" r="2.45"/><circle cx="555.7" cy="149.2" r="2.45"/><circle cx="539.0" cy="149.7" r="2.45"/><circle cx="537.6" cy="150.3" r="2.45"/><circle cx="553.1" cy="148.2" r="2.45"/><circle cx="551.7" cy="138.6" r="2.45"/><circle cx="535.0" cy="144.7" r="2.45"/><circle cx="545.1" cy="163.6" r="2.45"/><circle cx="550.4" cy="133.0" r="2.45"/><circle cx="550.2" cy="134.0" r="2.45"/><circle cx="537.5" cy="131.2" r="2.45"/><circle cx="544.0" cy="136.2" r="2.45"/><circle cx="534.7" cy="138.6" r="2.45"/><circle cx="551.7" cy="149.4" r="2.45"/><circle cx="544.0" cy="159.6" r="2.45"/><circle cx="536.1" cy="140.6" r="2.45"/><circle cx="540.4" cy="140.8" r="2.45"/><circle cx="550.8" cy="142.9" r="2.45"/><circle cx="543.4" cy="134.9" r="2.45"/><circle cx="536.2" cy="159.1" r="2.45"/><circle cx="537.7" cy="154.5" r="2.45"/><circle cx="544.6" cy="141.9" r="2.45"/><circle cx="544.4" cy="126.3" r="2.45"/><circle cx="535.1" cy="151.3" r="2.45"/><circle cx="540.7" cy="149.1" r="2.45"/><circle cx="535.0" cy="133.2" r="2.45"/><circle cx="545.2" cy="145.3" r="2.45"/><circle cx="555.2" cy="152.5" r="2.45"/><circle cx="546.3" cy="141.4" r="2.45"/><circle cx="540.7" cy="153.0" r="2.45"/><circle cx="541.9" cy="157.2" r="2.45"/><circle cx="535.3" cy="137.2" r="2.45"/><circle cx="538.0" cy="134.4" r="2.45"/><circle cx="553.4" cy="149.7" r="2.45"/><circle cx="550.1" cy="147.3" r="2.45"/><circle cx="538.8" cy="137.1" r="2.45"/><circle cx="550.0" cy="135.4" r="2.45"/><circle cx="545.1" cy="147.3" r="2.45"/><circle cx="549.7" cy="153.3" r="2.45"/><circle cx="537.0" cy="161.7" r="2.45"/><circle cx="554.8" cy="151.7" r="2.45"/><circle cx="552.3" cy="146.0" r="2.45"/><circle cx="539.6" cy="131.1" r="2.45"/><circle cx="555.5" cy="148.4" r="2.45"/><circle cx="539.0" cy="140.5" r="2.45"/><circle cx="542.8" cy="137.3" r="2.45"/><circle cx="550.6" cy="150.0" r="2.45"/><circle cx="553.9" cy="151.1" r="2.45"/><circle cx="539.8" cy="149.2" r="2.45"/><circle cx="540.8" cy="154.0" r="2.45"/><circle cx="547.1" cy="138.5" r="2.45"/><circle cx="553.2" cy="146.9" r="2.45"/><circle cx="541.0" cy="151.5" r="2.45"/><circle cx="544.7" cy="146.8" r="2.45"/><circle cx="536.6" cy="137.7" r="2.45"/><circle cx="545.3" cy="163.3" r="2.45"/><circle cx="544.5" cy="147.0" r="2.45"/><circle cx="538.1" cy="128.9" r="2.45"/><circle cx="553.3" cy="137.6" r="2.45"/><circle cx="550.4" cy="150.1" r="2.45"/><circle cx="546.1" cy="145.6" r="2.45"/><circle cx="552.3" cy="159.5" r="2.45"/><circle cx="549.7" cy="129.4" r="2.45"/><circle cx="547.6" cy="165.4" r="2.45"/><circle cx="545.8" cy="148.0" r="2.45"/><circle cx="537.0" cy="158.0" r="2.45"/><circle cx="553.8" cy="144.6" r="2.45"/><circle cx="541.0" cy="135.8" r="2.45"/><circle cx="535.6" cy="155.7" r="2.45"/><circle cx="541.7" cy="149.8" r="2.45"/><circle cx="547.2" cy="148.7" r="2.45"/><circle cx="552.3" cy="143.1" r="2.45"/><circle cx="535.6" cy="140.6" r="2.45"/><circle cx="539.8" cy="144.3" r="2.45"/><circle cx="555.1" cy="150.7" r="2.45"/><circle cx="551.9" cy="160.3" r="2.45"/><circle cx="541.0" cy="139.3" r="2.45"/><circle cx="552.9" cy="160.0" r="2.45"/><circle cx="542.0" cy="156.4" r="2.45"/><circle cx="552.7" cy="143.1" r="2.45"/><circle cx="535.4" cy="157.4" r="2.45"/><circle cx="553.0" cy="161.6" r="2.45"/><circle cx="549.4" cy="128.8" r="2.45"/><circle cx="549.4" cy="154.8" r="2.45"/><circle cx="536.7" cy="150.7" r="2.45"/><circle cx="542.7" cy="153.2" r="2.45"/><circle cx="534.9" cy="141.9" r="2.45"/><circle cx="553.3" cy="147.8" r="2.45"/><circle cx="545.2" cy="155.5" r="2.45"/></g>
<g fill="#dd6352"><circle cx="565.8" cy="166.3" r="2.45"/><circle cx="563.8" cy="139.3" r="2.45"/><circle cx="570.2" cy="139.9" r="2.45"/><circle cx="571.9" cy="158.9" r="2.45"/><circle cx="559.4" cy="157.0" r="2.45"/><circle cx="566.6" cy="145.2" r="2.45"/><circle cx="564.3" cy="132.6" r="2.45"/><circle cx="560.5" cy="132.5" r="2.45"/><circle cx="559.4" cy="154.6" r="2.45"/><circle cx="563.2" cy="148.5" r="2.45"/><circle cx="566.5" cy="162.5" r="2.45"/><circle cx="566.0" cy="145.7" r="2.45"/><circle cx="564.4" cy="134.2" r="2.45"/><circle cx="568.1" cy="153.1" r="2.45"/><circle cx="568.2" cy="160.7" r="2.45"/><circle cx="570.2" cy="160.5" r="2.45"/><circle cx="557.1" cy="152.0" r="2.45"/><circle cx="569.7" cy="142.2" r="2.45"/><circle cx="565.3" cy="151.6" r="2.45"/><circle cx="571.5" cy="147.4" r="2.45"/><circle cx="568.3" cy="138.8" r="2.45"/><circle cx="569.1" cy="141.0" r="2.45"/><circle cx="556.7" cy="155.8" r="2.45"/><circle cx="559.2" cy="148.8" r="2.45"/><circle cx="564.0" cy="134.8" r="2.45"/><circle cx="570.2" cy="132.0" r="2.45"/><circle cx="561.7" cy="143.6" r="2.45"/><circle cx="570.0" cy="155.0" r="2.45"/><circle cx="567.2" cy="153.9" r="2.45"/><circle cx="557.9" cy="158.3" r="2.45"/><circle cx="571.3" cy="134.7" r="2.45"/><circle cx="568.8" cy="155.6" r="2.45"/><circle cx="562.7" cy="150.4" r="2.45"/><circle cx="569.3" cy="134.3" r="2.45"/><circle cx="571.1" cy="147.5" r="2.45"/><circle cx="571.8" cy="141.0" r="2.45"/><circle cx="562.2" cy="139.4" r="2.45"/><circle cx="567.8" cy="141.3" r="2.45"/><circle cx="558.5" cy="147.9" r="2.45"/><circle cx="571.4" cy="141.5" r="2.45"/><circle cx="564.4" cy="159.1" r="2.45"/><circle cx="565.3" cy="140.9" r="2.45"/><circle cx="571.0" cy="153.7" r="2.45"/><circle cx="565.0" cy="149.0" r="2.45"/><circle cx="567.9" cy="153.2" r="2.45"/><circle cx="569.4" cy="159.1" r="2.45"/><circle cx="562.1" cy="151.3" r="2.45"/><circle cx="565.3" cy="155.4" r="2.45"/><circle cx="559.0" cy="131.8" r="2.45"/><circle cx="562.0" cy="132.4" r="2.45"/><circle cx="562.0" cy="147.2" r="2.45"/><circle cx="568.7" cy="153.9" r="2.45"/><circle cx="566.4" cy="142.3" r="2.45"/><circle cx="567.4" cy="153.9" r="2.45"/><circle cx="565.3" cy="158.1" r="2.45"/><circle cx="560.8" cy="145.8" r="2.45"/><circle cx="557.5" cy="136.8" r="2.45"/><circle cx="564.8" cy="148.4" r="2.45"/><circle cx="569.8" cy="131.9" r="2.45"/><circle cx="562.0" cy="146.3" r="2.45"/><circle cx="559.6" cy="147.3" r="2.45"/><circle cx="562.4" cy="144.5" r="2.45"/><circle cx="559.2" cy="131.8" r="2.45"/><circle cx="557.8" cy="136.0" r="2.45"/><circle cx="557.2" cy="129.2" r="2.45"/><circle cx="561.3" cy="143.1" r="2.45"/><circle cx="569.7" cy="161.2" r="2.45"/><circle cx="565.3" cy="150.9" r="2.45"/><circle cx="570.6" cy="139.5" r="2.45"/><circle cx="558.4" cy="148.2" r="2.45"/><circle cx="560.9" cy="154.9" r="2.45"/><circle cx="561.8" cy="151.9" r="2.45"/><circle cx="570.4" cy="129.9" r="2.45"/><circle cx="560.1" cy="150.5" r="2.45"/><circle cx="568.8" cy="149.8" r="2.45"/><circle cx="565.6" cy="147.6" r="2.45"/><circle cx="564.1" cy="147.1" r="2.45"/><circle cx="561.6" cy="150.4" r="2.45"/><circle cx="570.1" cy="138.4" r="2.45"/><circle cx="561.2" cy="150.3" r="2.45"/><circle cx="559.9" cy="153.9" r="2.45"/><circle cx="565.8" cy="137.0" r="2.45"/><circle cx="556.4" cy="148.0" r="2.45"/><circle cx="565.2" cy="139.9" r="2.45"/><circle cx="569.2" cy="150.8" r="2.45"/><circle cx="562.9" cy="155.6" r="2.45"/><circle cx="559.8" cy="139.1" r="2.45"/><circle cx="566.6" cy="150.0" r="2.45"/><circle cx="556.8" cy="155.1" r="2.45"/><circle cx="569.2" cy="148.3" r="2.45"/></g>
<g fill="#dd6352"><circle cx="583.6" cy="149.8" r="2.45"/><circle cx="589.4" cy="138.9" r="2.45"/><circle cx="599.2" cy="139.5" r="2.45"/><circle cx="597.4" cy="146.4" r="2.45"/><circle cx="590.9" cy="157.3" r="2.45"/><circle cx="587.8" cy="139.1" r="2.45"/><circle cx="591.9" cy="153.1" r="2.45"/><circle cx="575.7" cy="139.1" r="2.45"/><circle cx="592.2" cy="137.2" r="2.45"/><circle cx="593.4" cy="151.7" r="2.45"/><circle cx="572.9" cy="151.7" r="2.45"/><circle cx="596.6" cy="141.3" r="2.45"/><circle cx="581.2" cy="143.0" r="2.45"/><circle cx="589.5" cy="137.4" r="2.45"/><circle cx="578.9" cy="133.7" r="2.45"/><circle cx="579.6" cy="146.0" r="2.45"/><circle cx="585.7" cy="133.9" r="2.45"/><circle cx="573.3" cy="144.0" r="2.45"/><circle cx="599.5" cy="145.6" r="2.45"/><circle cx="594.1" cy="149.9" r="2.45"/><circle cx="589.1" cy="152.6" r="2.45"/><circle cx="587.0" cy="158.8" r="2.45"/><circle cx="574.2" cy="165.4" r="2.45"/><circle cx="581.6" cy="143.2" r="2.45"/><circle cx="580.1" cy="141.2" r="2.45"/><circle cx="582.3" cy="145.7" r="2.45"/><circle cx="590.6" cy="154.4" r="2.45"/><circle cx="574.5" cy="147.4" r="2.45"/><circle cx="587.7" cy="135.1" r="2.45"/><circle cx="590.9" cy="138.5" r="2.45"/><circle cx="597.5" cy="137.4" r="2.45"/><circle cx="593.9" cy="161.6" r="2.45"/><circle cx="593.8" cy="137.8" r="2.45"/><circle cx="589.0" cy="147.1" r="2.45"/><circle cx="583.7" cy="134.4" r="2.45"/><circle cx="586.4" cy="159.1" r="2.45"/><circle cx="598.1" cy="138.0" r="2.45"/><circle cx="594.3" cy="133.9" r="2.45"/><circle cx="595.3" cy="141.1" r="2.45"/><circle cx="596.2" cy="138.6" r="2.45"/><circle cx="598.6" cy="153.4" r="2.45"/><circle cx="592.6" cy="158.6" r="2.45"/><circle cx="600.4" cy="141.4" r="2.45"/><circle cx="596.0" cy="144.9" r="2.45"/><circle cx="595.7" cy="146.6" r="2.45"/><circle cx="580.3" cy="141.4" r="2.45"/><circle cx="585.6" cy="153.4" r="2.45"/><circle cx="587.6" cy="143.9" r="2.45"/><circle cx="583.2" cy="137.1" r="2.45"/><circle cx="582.5" cy="147.6" r="2.45"/><circle cx="590.5" cy="135.7" r="2.45"/><circle cx="579.8" cy="156.0" r="2.45"/><circle cx="590.2" cy="138.9" r="2.45"/><circle cx="580.2" cy="136.4" r="2.45"/><circle cx="598.5" cy="139.5" r="2.45"/><circle cx="585.2" cy="139.1" r="2.45"/><circle cx="600.1" cy="140.4" r="2.45"/><circle cx="597.6" cy="145.1" r="2.45"/><circle cx="582.7" cy="157.4" r="2.45"/><circle cx="594.8" cy="140.7" r="2.45"/><circle cx="582.1" cy="128.3" r="2.45"/><circle cx="579.9" cy="150.0" r="2.45"/><circle cx="583.3" cy="156.3" r="2.45"/><circle cx="593.9" cy="146.1" r="2.45"/><circle cx="592.0" cy="137.4" r="2.45"/><circle cx="598.0" cy="140.4" r="2.45"/><circle cx="577.3" cy="149.5" r="2.45"/><circle cx="592.2" cy="157.8" r="2.45"/><circle cx="585.7" cy="151.3" r="2.45"/><circle cx="578.8" cy="140.7" r="2.45"/><circle cx="593.9" cy="138.8" r="2.45"/><circle cx="583.6" cy="136.2" r="2.45"/><circle cx="591.3" cy="130.7" r="2.45"/><circle cx="575.3" cy="158.9" r="2.45"/><circle cx="577.5" cy="139.4" r="2.45"/></g>
<g fill="#dd6352"><circle cx="607.8" cy="142.2" r="2.45"/><circle cx="604.1" cy="140.7" r="2.45"/><circle cx="602.8" cy="137.3" r="2.45"/><circle cx="605.5" cy="141.9" r="2.45"/><circle cx="602.2" cy="139.1" r="2.45"/><circle cx="604.8" cy="138.7" r="2.45"/></g>
<polygon fill="#f6b79c" points="425.0,122.5 440.0,123.0 455.0,122.5 470.0,122.5 470.0,167.5 460.0,167.0 450.0,168.0 440.0,167.5 430.0,168.5 425.0,168.0"/>
<g fill="#f6b79c"><circle cx="424.8" cy="115.8" r="2.45"/><circle cx="432.9" cy="113.6" r="2.45"/><circle cx="428.2" cy="118.6" r="2.45"/><circle cx="431.4" cy="118.6" r="2.45"/><circle cx="441.5" cy="110.0" r="2.45"/><circle cx="442.6" cy="103.0" r="2.45"/><circle cx="449.0" cy="110.0" r="2.45"/><circle cx="452.5" cy="114.7" r="2.45"/><circle cx="455.6" cy="118.6" r="2.45"/><circle cx="443.9" cy="118.6" r="2.45"/><circle cx="439.2" cy="121.0" r="2.45"/><circle cx="461.0" cy="116.2" r="2.45"/><circle cx="464.2" cy="114.7" r="2.45"/><circle cx="466.5" cy="107.3" r="2.45"/><circle cx="465.8" cy="117.0" r="2.45"/><circle cx="460.3" cy="122.5" r="2.45"/><circle cx="446.0" cy="118.0" r="2.45"/><circle cx="451.0" cy="119.5" r="2.45"/><circle cx="436.0" cy="120.5" r="2.45"/><circle cx="430.6" cy="175.3" r="2.45"/><circle cx="433.7" cy="175.9" r="2.45"/><circle cx="440.0" cy="179.5" r="2.45"/><circle cx="443.1" cy="180.6" r="2.45"/><circle cx="430.6" cy="183.4" r="2.45"/><circle cx="442.3" cy="172.5" r="2.45"/><circle cx="448.6" cy="173.3" r="2.45"/><circle cx="452.5" cy="174.0" r="2.45"/><circle cx="457.9" cy="170.2" r="2.45"/><circle cx="461.0" cy="172.5" r="2.45"/><circle cx="461.0" cy="176.9" r="2.45"/><circle cx="466.5" cy="181.9" r="2.45"/><circle cx="466.5" cy="170.2" r="2.45"/><circle cx="430.6" cy="175.6" r="2.45"/><circle cx="434.2" cy="175.9" r="2.45"/><circle cx="439.5" cy="179.8" r="2.45"/><circle cx="443.4" cy="180.6" r="2.45"/><circle cx="430.9" cy="184.2" r="2.45"/><circle cx="442.3" cy="172.8" r="2.45"/><circle cx="447.0" cy="172.8" r="2.45"/><circle cx="452.5" cy="174.4" r="2.45"/><circle cx="458.7" cy="172.8" r="2.45"/><circle cx="461.0" cy="176.2" r="2.45"/><circle cx="452.0" cy="188.4" r="2.45"/><circle cx="454.8" cy="191.9" r="2.45"/><circle cx="460.8" cy="191.6" r="2.45"/><circle cx="467.3" cy="173.6" r="2.45"/></g>
<g fill="#f6b79c"><circle cx="462.8" cy="123.4" r="2.45"/><circle cx="433.6" cy="123.7" r="2.45"/><circle cx="434.6" cy="122.1" r="2.45"/><circle cx="466.5" cy="123.4" r="2.45"/><circle cx="461.0" cy="123.0" r="2.45"/><circle cx="440.7" cy="122.8" r="2.45"/><circle cx="456.1" cy="122.6" r="2.45"/><circle cx="451.1" cy="122.6" r="2.45"/><circle cx="444.0" cy="122.8" r="2.45"/><circle cx="457.1" cy="121.9" r="2.45"/><circle cx="426.6" cy="123.3" r="2.45"/><circle cx="452.3" cy="123.5" r="2.45"/><circle cx="461.5" cy="121.9" r="2.45"/><circle cx="448.6" cy="122.9" r="2.45"/><circle cx="428.3" cy="123.1" r="2.45"/><circle cx="435.8" cy="123.4" r="2.45"/><circle cx="434.5" cy="123.0" r="2.45"/><circle cx="465.1" cy="122.5" r="2.45"/><circle cx="435.7" cy="123.8" r="2.45"/><circle cx="434.0" cy="123.7" r="2.45"/><circle cx="449.3" cy="123.5" r="2.45"/><circle cx="457.5" cy="122.1" r="2.45"/><circle cx="454.9" cy="122.0" r="2.45"/><circle cx="436.3" cy="122.0" r="2.45"/><circle cx="461.5" cy="121.8" r="2.45"/><circle cx="451.3" cy="121.8" r="2.45"/><circle cx="444.9" cy="122.8" r="2.45"/><circle cx="457.2" cy="123.5" r="2.45"/><circle cx="455.2" cy="121.5" r="2.45"/><circle cx="440.0" cy="122.8" r="2.45"/></g>
<g fill="#f6b79c"><circle cx="461.5" cy="166.7" r="2.45"/><circle cx="463.1" cy="167.2" r="2.45"/><circle cx="464.1" cy="168.1" r="2.45"/><circle cx="438.4" cy="167.0" r="2.45"/><circle cx="439.7" cy="168.4" r="2.45"/><circle cx="448.1" cy="168.4" r="2.45"/><circle cx="463.2" cy="167.8" r="2.45"/><circle cx="433.0" cy="167.2" r="2.45"/><circle cx="469.5" cy="167.8" r="2.45"/><circle cx="453.5" cy="168.3" r="2.45"/><circle cx="470.2" cy="168.4" r="2.45"/><circle cx="431.6" cy="168.3" r="2.45"/><circle cx="441.9" cy="168.2" r="2.45"/><circle cx="440.1" cy="166.6" r="2.45"/><circle cx="461.7" cy="167.9" r="2.45"/><circle cx="449.5" cy="167.3" r="2.45"/><circle cx="458.1" cy="166.7" r="2.45"/><circle cx="433.9" cy="167.7" r="2.45"/><circle cx="439.2" cy="168.3" r="2.45"/><circle cx="439.3" cy="167.5" r="2.45"/><circle cx="452.1" cy="168.8" r="2.45"/><circle cx="427.6" cy="168.2" r="2.45"/><circle cx="467.5" cy="167.6" r="2.45"/><circle cx="450.8" cy="167.8" r="2.45"/><circle cx="437.6" cy="167.2" r="2.45"/><circle cx="447.0" cy="166.9" r="2.45"/><circle cx="466.9" cy="167.8" r="2.45"/><circle cx="451.8" cy="167.2" r="2.45"/><circle cx="461.7" cy="166.5" r="2.45"/><circle cx="425.4" cy="167.4" r="2.45"/></g>
<polygon fill="#a6cee3" points="406.0,112.0 407.0,110.0 410.0,110.0 411.0,114.0 413.4,113.2 418.1,113.5 420.5,116.0 422.8,121.5 425.1,123.0 425.1,172.0 416.0,172.5 415.5,174.5 412.0,175.0 411.8,182.0 410.0,184.5 408.2,187.0 406.5,185.0 406.0,180.0"/>
<g fill="#a6cee3"><circle cx="408.4" cy="108.4" r="2.45"/><circle cx="413.4" cy="113.6" r="2.45"/><circle cx="418.1" cy="113.9" r="2.45"/><circle cx="420.4" cy="180.6" r="2.45"/><circle cx="422.4" cy="179.5" r="2.45"/><circle cx="408.2" cy="186.1" r="2.45"/><circle cx="409.3" cy="183.5" r="2.45"/><circle cx="407.6" cy="183.8" r="2.45"/></g>
</g>
<line x1="398.0" x2="682.6" y1="124.25" y2="124.25" stroke="#7c7c7c" stroke-width="1.2" stroke-dasharray="5 1.92" stroke-dashoffset="1.5"/>
<line x1="398.0" x2="682.6" y1="146.05" y2="146.05" stroke="#000" stroke-width="1.5"/>
<line x1="398.0" x2="682.6" y1="167.75" y2="167.75" stroke="#7c7c7c" stroke-width="1.2" stroke-dasharray="5 1.92" stroke-dashoffset="1.5"/>
<rect x="398.0" y="34.5" width="284.6" height="223.1" fill="none" stroke="#333" stroke-width="1.25"/>
<line x1="439.0" x2="439.0" y1="257.6" y2="261.0" stroke="#222" stroke-width="1.1"/>
<text transform="translate(439.00,273.80) scale(1,1.130)" font-size="13.00" text-anchor="middle">2</text>
<line x1="499.2" x2="499.2" y1="257.6" y2="261.0" stroke="#222" stroke-width="1.1"/>
<text transform="translate(499.20,273.80) scale(1,1.130)" font-size="13.00" text-anchor="middle">4</text>
<line x1="559.5" x2="559.5" y1="257.6" y2="261.0" stroke="#222" stroke-width="1.1"/>
<text transform="translate(559.50,273.80) scale(1,1.130)" font-size="13.00" text-anchor="middle">6</text>
<line x1="620.2" x2="620.2" y1="257.6" y2="261.0" stroke="#222" stroke-width="1.1"/>
<text transform="translate(620.20,273.80) scale(1,1.130)" font-size="13.00" text-anchor="middle">8</text>
<line x1="394.6" x2="398.0" y1="34.5" y2="34.5" stroke="#222" stroke-width="1.1"/>
<text transform="translate(391.70,40.13) scale(1,1.120)" font-size="13.00" text-anchor="end">3</text>
<line x1="394.6" x2="398.0" y1="71.7" y2="71.7" stroke="#222" stroke-width="1.1"/>
<text transform="translate(391.70,77.32) scale(1,1.120)" font-size="13.00" text-anchor="end">2</text>
<line x1="394.6" x2="398.0" y1="108.9" y2="108.9" stroke="#222" stroke-width="1.1"/>
<text transform="translate(391.70,114.51) scale(1,1.120)" font-size="13.00" text-anchor="end">1</text>
<line x1="394.6" x2="398.0" y1="146.1" y2="146.1" stroke="#222" stroke-width="1.1"/>
<text transform="translate(391.70,151.70) scale(1,1.120)" font-size="13.00" text-anchor="end">0</text>
<line x1="394.6" x2="398.0" y1="183.3" y2="183.3" stroke="#222" stroke-width="1.1"/>
<text transform="translate(391.70,188.89) scale(1,1.120)" font-size="13.00" text-anchor="end">−1</text>
<line x1="394.6" x2="398.0" y1="220.5" y2="220.5" stroke="#222" stroke-width="1.1"/>
<text transform="translate(391.70,226.08) scale(1,1.120)" font-size="13.00" text-anchor="end">−2</text>
<line x1="394.6" x2="398.0" y1="257.7" y2="257.7" stroke="#222" stroke-width="1.1"/>
<text transform="translate(391.70,263.27) scale(1,1.120)" font-size="13.00" text-anchor="end">−3</text>
<text x="540.10" y="30.30" font-size="10.45" text-anchor="middle" >MetCart METs vs Ray METs</text>
<text transform="translate(366.25,146.60) rotate(-90)" font-size="10.45" text-anchor="middle">MetCart METs - Ray METs</text>
<text x="538.00" y="289.25" font-size="12.10" text-anchor="middle" >MetCart METs</text>
<text x="539.80" y="317.30" font-size="12.20" text-anchor="middle" >(b)</text>
<text x="679.30" y="121.80" font-size="8.58" text-anchor="end" >+1.96 SD</text>
<text x="679.30" y="132.50" font-size="8.15" text-anchor="end" >0.58</text>
<text x="679.30" y="144.20" font-size="8.58" text-anchor="end" >Mean</text>
<text x="679.30" y="154.05" font-size="8.15" text-anchor="end" >-0.01</text>
<text x="679.30" y="165.60" font-size="8.58" text-anchor="end" >-1.96 SD</text>
<text x="679.30" y="176.00" font-size="8.15" text-anchor="end" >-0.59</text>
<rect x="401.9" y="38.6" width="78.4" height="52.6" rx="2" ry="2" fill="#fff" fill-opacity="0.8" stroke="#ccc" stroke-opacity="0.8" stroke-width="0.9"/>
<rect x="405.7" y="43.2" width="17.7" height="6.6" fill="#a6cee3"/>
<rect x="405.7" y="56.4" width="17.7" height="6.6" fill="#f6b79c"/>
<rect x="405.7" y="75.5" width="17.7" height="6.6" fill="#dd6352"/>
<text x="430.20" y="49.40" font-size="8.55" text-anchor="start" >Sedentary</text>
<text x="430.20" y="62.40" font-size="8.55" text-anchor="start" >Light</text>
<text x="429.70" y="76.10" font-size="8.55" text-anchor="start" >Moderate /</text>
<text x="429.70" y="85.75" font-size="8.55" text-anchor="start" > Vigorous</text>
</svg>
</body></html>
